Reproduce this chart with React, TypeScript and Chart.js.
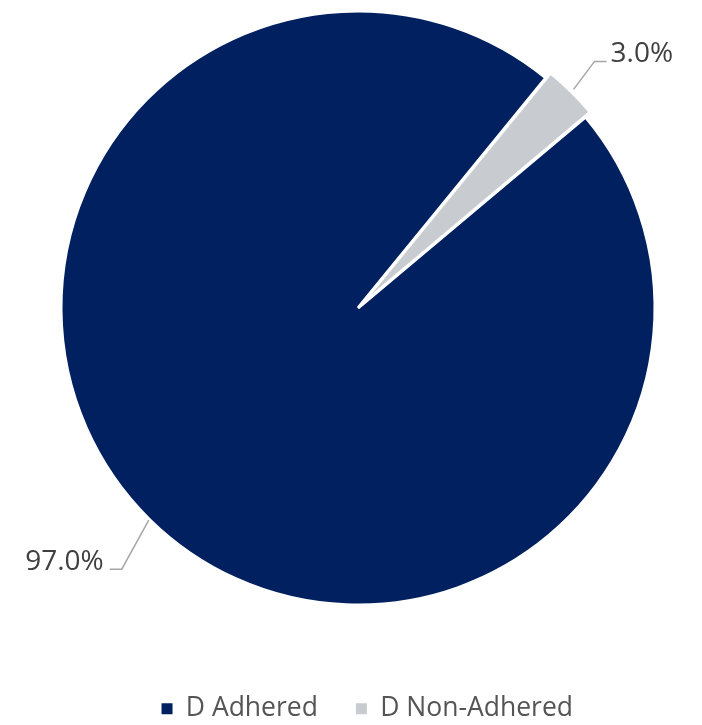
import { useEffect, useRef } from "react";
import { Chart, registerables } from "chart.js";

Chart.register(...registerables);

const categories = ["D Adhered", "D Non-Adhered"];
const shareValues = [97.0, 3.0];
const sliceColors = ["#002060", "#C8CCD0"];
const sliceOffsets = [0, 15];

const FONT = "'Open Sans', 'Noto Sans', sans-serif";

const leaderLabels = {
  id: "leaderLabels",
  afterDatasetsDraw(chart: any) {
    const ctx = chart.ctx;
    const meta = chart.getDatasetMeta(0);
    const looks = [
      { extra: 1, elbow: [-27, 49], run: -12, gap: 6 },
      { extra: 10, elbow: [21, -28], run: 12, gap: 4 },
    ];
    meta.data.forEach((arc: any, i: number) => {
      const { x, y, startAngle, endAngle, outerRadius } = arc.getProps(
        ["x", "y", "startAngle", "endAngle", "outerRadius"],
        true
      );
      const mid = (startAngle + endAngle) / 2;
      const L = looks[i];
      const r = outerRadius + L.extra;
      const sx = x + Math.cos(mid) * r;
      const sy = y + Math.sin(mid) * r;
      const ex = sx + L.elbow[0];
      const ey = sy + L.elbow[1];
      const hx = ex + L.run;
      ctx.save();
      ctx.strokeStyle = "#A6A6A6";
      ctx.lineWidth = 1.5;
      ctx.beginPath();
      ctx.moveTo(sx, sy);
      ctx.lineTo(ex, ey);
      ctx.lineTo(hx, ey);
      ctx.stroke();
      ctx.fillStyle = "#404040";
      ctx.font = `28px ${FONT}`;
      ctx.textBaseline = "alphabetic";
      const right = L.run > 0;
      ctx.textAlign = right ? "left" : "right";
      ctx.fillText(
        shareValues[i].toFixed(1) + "%",
        hx + (right ? L.gap : -L.gap),
        ey + 1
      );
      ctx.restore();
    });
  },
};

export default function App() {
  const ref = useRef<HTMLCanvasElement | null>(null);
  useEffect(() => {
    if (!ref.current) return;
    Chart.defaults.font.family = FONT;
    const baseGen =
      (Chart as any).overrides.pie?.plugins?.legend?.labels?.generateLabels ||
      (Chart as any).overrides.doughnut.plugins.legend.labels.generateLabels;
    const chart = new Chart(ref.current, {
      type: "pie",
      data: {
        labels: categories,
        datasets: [
          {
            data: shareValues,
            backgroundColor: sliceColors,
            borderColor: "#FFFFFF",
            borderWidth: 3,
            offset: sliceOffsets,
          },
        ],
      },
      options: {
        animation: false,
        responsive: true,
        maintainAspectRatio: false,
        rotation: 50,
        radius: 297,
        layout: { padding: { left: 32.5, right: 0, top: 0, bottom: 0 } },
        plugins: {
          tooltip: { enabled: false },
          title: {
            display: true,
            position: "right",
            text: "",
            font: { size: 10, lineHeight: 1 },
            padding: { top: 8.5, bottom: 0 },
          },
          legend: {
            position: "bottom",
            align: "center",
            title: {
              display: true,
              text: "",
              font: { size: 10, lineHeight: 1 },
              padding: { top: 31.5, bottom: 0 },
            },
            labels: {
              boxWidth: 11,
              boxHeight: 11,
              padding: 38,
              color: "#555555",
              font: { size: 26.5, family: FONT },
              generateLabels: (c: any) =>
                baseGen(c).map((it: any) => ({
                  ...it,
                  lineWidth: 0,
                  strokeStyle: "rgba(0,0,0,0)",
                })),
            },
          },
        },
      } as any,
      plugins: [leaderLabels],
    });
    return () => chart.destroy();
  }, []);
  return (
    <div
      style={{
        position: "absolute",
        left: 0,
        top: 0,
        width: 702,
        height: 725,
        overflow: "hidden",
        background: "#FFFFFF",
      }}
    >
      <div style={{ position: "relative", width: 702, height: 732 }}>
        <canvas ref={ref} />
      </div>
    </div>
  );
}
